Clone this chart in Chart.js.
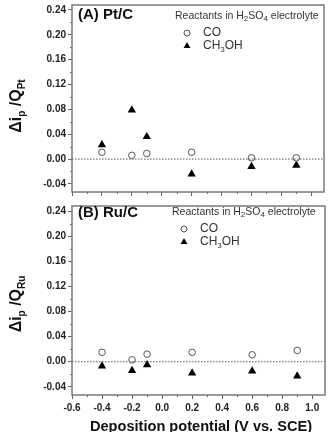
<!DOCTYPE html>
<html>
<head>
<meta charset="utf-8">
<script src="https://cdn.jsdelivr.net/npm/chart.js@4.4.0/dist/chart.umd.min.js"></script>
<style>
body { margin: 0; background: #fff; }
#wrapA { position: absolute; left: 0; top: 0; width: 331px; height: 200px; }
#wrapB { position: absolute; left: 0; top: 200px; width: 331px; height: 232px; }
</style>
</head>
<body>
<div id="wrapA"><canvas id="chartA"></canvas></div>
<div id="wrapB"><canvas id="chartB"></canvas></div>
<script>
// deposition potentials (V vs SCE)
const potentials = [-0.4, -0.2, -0.1, 0.2, 0.6, 0.9];
// panel A, Pt/C
const ptCO = [0.011, 0.006, 0.009, 0.011, 0.002, 0.002];
const ptMeOH = [0.023, 0.079, 0.036, -0.024, -0.012, -0.010];
// panel B, Ru/C
const ruCO = [0.015, 0.003, 0.012, 0.015, 0.011, 0.018];
const ruMeOH = [-0.007, -0.014, -0.005, -0.018, -0.015, -0.023];

const xTicks = [-0.6, -0.4, -0.2, 0.0, 0.2, 0.4, 0.6, 0.8, 1.0];
const yTicks = [-0.04, 0.00, 0.04, 0.08, 0.12, 0.16, 0.20, 0.24];

Chart.defaults.font.family = 'Arial, "Liberation Sans", sans-serif';

function richText(ctx, parts, x, y, align) {
    let w = 0;
    parts.forEach(p => { ctx.font = p.font; w += ctx.measureText(p.t).width; });
    let cx = align === 'center' ? x - w / 2 : x;
    parts.forEach(p => {
        ctx.font = p.font;
        ctx.fillText(p.t, cx, y + (p.dy || 0));
        cx += ctx.measureText(p.t).width;
    });
}

function midpoints(arr) {
    const out = [];
    for (let i = 0; i < arr.length - 1; i++) out.push((arr[i] + arr[i + 1]) / 2);
    return out;
}

function panelPlugin(cfg) {
    return {
        id: 'panel' + cfg.metal,
        beforeDatasetsDraw(chart) {
            const ctx = chart.ctx, a = chart.chartArea;
            const xs = chart.scales.x, ys = chart.scales.y;
            ctx.save();
            // zero line
            const y0 = ys.getPixelForValue(0);
            ctx.setLineDash([1.5, 1.5]);
            ctx.strokeStyle = '#555';
            ctx.lineWidth = 1;
            ctx.beginPath();
            ctx.moveTo(a.left, y0);
            ctx.lineTo(a.right, y0);
            ctx.stroke();
            ctx.setLineDash([]);
            // minor ticks
            ctx.strokeStyle = '#666';
            ctx.beginPath();
            midpoints(yTicks).forEach(v => {
                const p = Math.round(ys.getPixelForValue(v)) + 0.5;
                ctx.moveTo(a.left, p); ctx.lineTo(a.left - 2, p);
            });
            midpoints(xTicks).forEach(v => {
                const p = Math.round(xs.getPixelForValue(v)) + 0.5;
                ctx.moveTo(p, a.bottom); ctx.lineTo(p, a.bottom + 2);
            });
            ctx.stroke();
            // frame
            ctx.strokeStyle = '#7a7a7a';
            ctx.lineWidth = 1.5;
            ctx.strokeRect(a.left, a.top, a.right - a.left, a.bottom - a.top);
            ctx.restore();
        },
        afterDraw(chart) {
            const ctx = chart.ctx;
            ctx.save();
            ctx.fillStyle = '#111';
            ctx.textBaseline = 'middle';
            ctx.font = 'bold 15px Arial, "Liberation Sans", sans-serif';
            ctx.fillText(cfg.label, 78, cfg.labelY);

            // legend
            ctx.fillStyle = '#333';
            const f = '10.5px Arial, "Liberation Sans", sans-serif';
            const fs = '8px Arial, "Liberation Sans", sans-serif';
            richText(ctx, [
                {t: 'Reactants in H', font: f},
                {t: '2', font: fs, dy: 3},
                {t: 'SO', font: f},
                {t: '4', font: fs, dy: 3},
                {t: ' electrolyte', font: f}
            ], cfg.legX, cfg.legY, 'left');
            ctx.fillStyle = '#fff';
            ctx.strokeStyle = '#555';
            Chart.helpers.drawPoint(ctx, {pointStyle: 'circle', radius: 3, borderWidth: 1}, cfg.symX, cfg.legY + 17);
            ctx.fillStyle = '#000';
            ctx.strokeStyle = '#000';
            Chart.helpers.drawPoint(ctx, {pointStyle: 'triangle', radius: 4, borderWidth: 0}, cfg.symX, cfg.legY + 30);
            ctx.fillStyle = '#333';
            const f2 = '12px Arial, "Liberation Sans", sans-serif';
            richText(ctx, [{t: 'CO', font: f2}], cfg.symX + 16, cfg.legY + 17, 'left');
            richText(ctx, [
                {t: 'CH', font: f2},
                {t: '3', font: fs, dy: 4},
                {t: 'OH', font: f2}
            ], cfg.symX + 16, cfg.legY + 30, 'left');

            // y title
            ctx.fillStyle = '#111';
            ctx.translate(17, cfg.titleY);
            ctx.rotate(-Math.PI / 2);
            const fb = 'bold 16px Arial, "Liberation Sans", sans-serif';
            const fbs = 'bold 10px Arial, "Liberation Sans", sans-serif';
            richText(ctx, [
                {t: '\u0394i', font: fb},
                {t: 'p', font: fbs, dy: 5},
                {t: ' /Q', font: fb},
                {t: cfg.metal, font: fbs, dy: 5}
            ], 0, 0, 'center');
            ctx.restore();

            if (cfg.xTitle) {
                ctx.save();
                ctx.fillStyle = '#111';
                ctx.textAlign = 'center';
                ctx.textBaseline = 'alphabetic';
                ctx.font = 'bold 14.6px Arial, "Liberation Sans", sans-serif';
                ctx.fillText(cfg.xTitle, 201, 231);
                ctx.restore();
            }
        }
    };
}

function makeChart(id, co, meoh, cfg) {
    return new Chart(document.getElementById(id), {
        type: 'scatter',
        data: {
            datasets: [{
                label: 'CO',
                data: potentials.map((x, i) => ({x: x, y: co[i]})),
                pointStyle: 'circle',
                pointRadius: 3.3,
                backgroundColor: 'rgba(255,255,255,0)',
                borderColor: '#555',
                borderWidth: 1
            }, {
                label: 'CH3OH',
                data: potentials.map((x, i) => ({x: x, y: meoh[i]})),
                pointStyle: 'triangle',
                pointRadius: 4.8,
                backgroundColor: '#000',
                borderColor: '#000',
                borderWidth: 0
            }]
        },
        options: {
            responsive: true,
            maintainAspectRatio: false,
            animation: false,
            layout: { padding: { left: 0, top: cfg.top, right: cfg.right, bottom: 0 } },
            plugins: { legend: { display: false }, tooltip: { enabled: false } },
            scales: {
                x: {
                    type: 'linear',
                    min: -0.6,
                    max: 1.085,
                    afterBuildTicks: s => { s.ticks = xTicks.map(v => ({value: v})); },
                    afterFit: s => { s.height = cfg.xHeight; s.paddingLeft = 0; s.paddingRight = 0; },
                    ticks: {
                        display: cfg.xLabels,
                        color: '#222',
                        padding: 3,
                        font: { size: 10, weight: 'bold' },
                        callback: v => v.toFixed(1)
                    },
                    grid: { drawOnChartArea: false, tickLength: 4, color: '#666' },
                    border: { display: false }
                },
                y: {
                    min: -0.053,
                    max: 0.248,
                    afterBuildTicks: s => { s.ticks = yTicks.map(v => ({value: v})); },
                    afterFit: s => { s.width = 72; s.paddingTop = 0; s.paddingBottom = 0; },
                    ticks: {
                        color: '#222',
                        padding: 2,
                        font: { size: 10, weight: 'bold' },
                        callback: v => v.toFixed(2)
                    },
                    grid: { drawOnChartArea: false, tickLength: 4, color: '#666' },
                    border: { display: false }
                }
            }
        },
        plugins: [panelPlugin(cfg)]
    });
}

makeChart('chartA', ptCO, ptMeOH, {
    label: '(A) Pt/C', labelY: 15, metal: 'Pt', titleY: 106,
    legX: 175, legY: 16, symX: 187,
    top: 4, right: 7, xHeight: 8, xLabels: false
});
makeChart('chartB', ruCO, ruMeOH, {
    label: '(B) Ru/C', labelY: 13, metal: 'Ru', titleY: 104,
    legX: 172, legY: 12, symX: 184,
    top: 6, right: 6, xHeight: 37, xLabels: true,
    xTitle: 'Deposition potential (V vs. SCE)'
});
</script>
</body>
</html>
